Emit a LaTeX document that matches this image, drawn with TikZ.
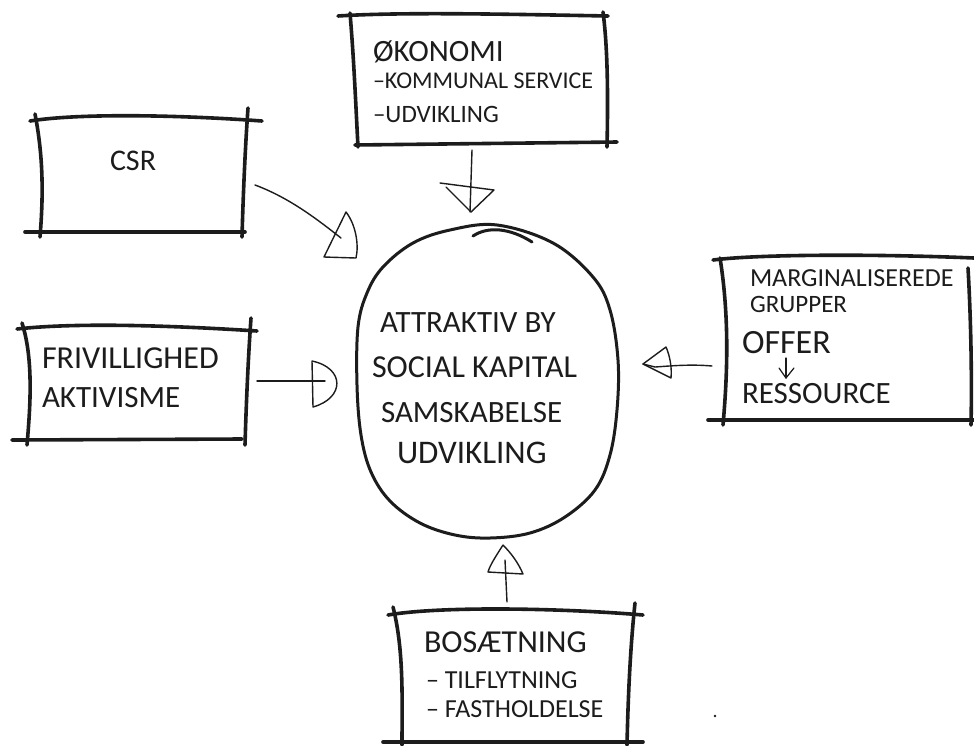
\documentclass[tikz,border=0pt]{standalone}
\usepackage{fontspec}
\setmainfont{Carlito}
\newcommand\hfs[1]{\fontsize{#1}{#1}\selectfont}
\definecolor{ink}{HTML}{1C1C1C}
\begin{document}
\begin{tikzpicture}[x=1pt,y=-1pt,line cap=round,line join=round,
  boxline/.style={draw=ink,line width=3.6pt},
  blobline/.style={draw=ink,line width=3pt},
  conn/.style={draw=ink,line width=1.4pt},
  lbl/.style={anchor=base west,inner sep=0pt,outer sep=0pt,text=ink}]
\useasboundingbox[fill=white] (0,0) rectangle (974,745);

% ---------- Økonomi box ----------
\draw[boxline] (338,16) .. controls (400,12) and (500,14) .. (608,16);
\draw[boxline] (350,13) .. controls (354,60) and (356,110) .. (358,147);
\draw[boxline] (603,12) .. controls (608,50) and (608,100) .. (607,147);
\draw[boxline] (355,145) -- (617,142);
\node[lbl] (oko1) at (373,61) {\hfs{31}ØKONOMI};
\node[lbl] (oko2) at (373,88) {\hfs{24}–KOMMUNAL SERVICE};
\node[lbl] (oko3) at (373,122) {\hfs{25}–UDVIKLING};
\coordinate (okoS) at (472,150);

% ---------- CSR box ----------
\draw[boxline] (30,121) .. controls (80,113) and (180,115) .. (262,121);
\draw[boxline] (35,114) .. controls (44,160) and (43,200) .. (40,237);
\draw[boxline] (248,108) .. controls (245,150) and (243,200) .. (242,237);
\draw[boxline] (25,232) -- (245,232);
\node[lbl] (csr) at (110,170) {\hfs{30}CSR};
\coordinate (csrE) at (255,185);

% ---------- Frivillighed box ----------
\draw[boxline] (17,329) .. controls (80,322) and (180,326) .. (257,331);
\draw[boxline] (22,323) .. controls (34,360) and (30,410) .. (27,445);
\draw[boxline] (251,318) .. controls (248,360) and (246,410) .. (245,445);
\draw[boxline] (12,440) -- (242,439);
\node[lbl] (fri1) at (42,368) {\hfs{32}FRIVILLIGHED};
\node[lbl] (fri2) at (42,407) {\hfs{31}AKTIVISME};
\coordinate (friE) at (257,381);

% ---------- Marginaliserede box ----------
\draw[boxline] (713,260) .. controls (760,254) and (880,254) .. (974,258);
\draw[boxline] (720,258) .. controls (730,320) and (727,380) .. (723,425);
\draw[boxline] (968,268) .. controls (971,320) and (972,380) .. (971,425);
\draw[boxline] (708,420) -- (974,420);
\node[lbl] (mar1) at (750,286) {\hfs{26}MARGINALISEREDE};
\node[lbl] (mar2) at (750,312) {\hfs{25}GRUPPER};
\node[lbl] (mar3) at (742,353) {\hfs{34}OFFER};
\node[lbl] (mar4) at (742,403) {\hfs{31}RESSOURCE};
\coordinate (offS) at (786,358);
\coordinate (resN) at (786,378);
\draw[conn,line width=1.2pt] (offS) -- (resN);
\draw[conn,line width=1.2pt] (779,368) -- (resN) -- (794,368);
\coordinate (marW) at (712,366);

% ---------- Bosætning box ----------
\draw[boxline] (388,615) .. controls (440,606) and (560,608) .. (643,615);
\draw[boxline] (393,607) .. controls (404,650) and (402,700) .. (402,745);
\draw[boxline] (635,603) .. controls (630,650) and (628,700) .. (627,745);
\draw[boxline] (383,742) -- (643,742);
\node[lbl] (bos1) at (424,652) {\hfs{32}BOSÆTNING};
\node[lbl] (bos2) at (426,688) {\hfs{26}– TILFLYTNING};
\node[lbl] (bos3) at (426,717) {\hfs{26}– FASTHOLDELSE};
\coordinate (bosN) at (507,602);

% ---------- central blob ----------
\draw[blobline] plot[smooth cycle,tension=0.6] coordinates {
  (497,225) (553,243) (593,277) (610,310) (618,360) (617,410) (610,455)
  (595,490) (565,517) (530,533) (490,538) (455,535) (420,523) (390,501)
  (371,472) (361,435) (357,385) (358,327) (367,293) (383,267) (413,243)
  (450,230)};
\draw[blobline] (473,236) .. controls (488,226) and (510,228) .. (532,242);
\node[lbl] (c1) at (380,332) {\hfs{31}ATTRAKTIV BY};
\node[lbl] (c2) at (372,377) {\hfs{32}SOCIAL KAPITAL};
\node[lbl] (c3) at (381,422) {\hfs{31}SAMSKABELSE};
\node[lbl] (c4) at (397,463) {\hfs{33}UDVIKLING};
\coordinate (blobN) at (470,212);
\coordinate (blobNW) at (341,238);
\coordinate (blobW) at (325,381);
\coordinate (blobE) at (655,367);
\coordinate (blobS) at (505,560);

% ---------- connectors ----------
% Økonomi -> blob
\draw[conn] (okoS) -- (blobN);
\draw[conn] (440,183) -- (494,190) -- (471,212) -- (446,187);
% CSR -> blob
\draw[conn] (csrE) .. controls (290,198) and (318,220) .. (blobNW);
\draw[conn] (346,212) -- (324,257) -- (356,258)
  .. controls (359,245) and (356,225) .. (346,212);
% Frivillighed -> blob
\draw[conn] (friE) -- (blobW);
\draw[conn] (312,361) -- (313,407)
  .. controls (345,398) and (345,368) .. (312,361);
% Marginaliserede -> blob
\draw[conn] (marW) .. controls (690,364) and (670,366) .. (blobE) -- (643,364);
\draw[conn] (666,347) -- (643,364) -- (671,378)
  .. controls (672,368) and (670,356) .. (666,347);
% Bosætning -> blob
\draw[conn] (bosN) -- (blobS);
\draw[conn] (503,545) .. controls (496,556) and (490,565) .. (488,572)
  -- (523,574) .. controls (518,562) and (510,552) .. (503,545);

% stray dot
\fill[ink] (715,716) circle (1.3);
\end{tikzpicture}
\end{document}
